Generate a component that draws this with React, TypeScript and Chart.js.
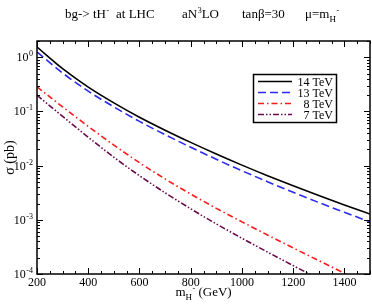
import React, { useEffect, useRef } from "react";
import { Chart, registerables } from "chart.js";

Chart.register(...registerables);

const masses = [200, 300, 400, 500, 600, 700, 800, 900, 1000, 1100, 1200, 1300, 1400, 1500];
const sigma14 = [1.549, 0.617, 0.282, 0.1445, 0.0785, 0.0452, 0.0269, 0.0164, 0.01023, 0.00653, 0.00425, 0.00281, 0.00188, 0.00128];
const sigma13 = [1.259, 0.513, 0.237, 0.1216, 0.0656, 0.0373, 0.0219, 0.01312, 0.00805, 0.00505, 0.00322, 0.00209, 0.001377, 0.000918];
const sigma8 = [0.285, 0.1216, 0.0531, 0.024, 0.01135, 0.00569, 0.00299, 0.00163, 0.000918, 0.000525, 0.000303, 0.0001766, 0.0001035, 0.000061];
const sigma7 = [0.1995, 0.0813, 0.0335, 0.0143, 0.00653, 0.00316, 0.0016, 0.000841, 0.000457, 0.000254, 0.000143, 0.0000813];
const seriesLabels = ["14 TeV", "13 TeV", "8 TeV", "7 TeV"];
const seriesColors = ["#000000", "#2a2af0", "#ff1a1a", "#6a0a4c"];
const seriesDashes: number[][] = [[], [8, 4], [6, 3, 1.5, 3], [6, 2, 1.5, 2, 1.5, 2]];
const xTickLabels = [200, 400, 600, 800, 1000, 1200, 1400];
const yDecades = [0, -1, -2, -3, -4];

const SERIF = '"Liberation Serif", "DejaVu Serif", serif';

type Seg = { t: string; k: "n" | "sup" | "sub" };

function drawRuns(ctx: CanvasRenderingContext2D, segs: Seg[], x: number, y: number, size: number) {
  let cx = x;
  for (const s of segs) {
    if (s.k === "n") {
      ctx.font = `${size}px ${SERIF}`;
      ctx.fillText(s.t, cx, y);
      cx += ctx.measureText(s.t).width;
    } else if (s.k === "sup") {
      ctx.font = `${Math.round(size * 0.65)}px ${SERIF}`;
      ctx.fillText(s.t, cx + 0.5, y - size * 0.42);
      cx += ctx.measureText(s.t).width + 0.5;
    } else {
      ctx.font = `${Math.round(size * 0.7)}px ${SERIF}`;
      ctx.fillText(s.t, cx, y + size * 0.3);
      cx += ctx.measureText(s.t).width;
    }
  }
  return cx;
}

function runsWidth(ctx: CanvasRenderingContext2D, segs: Seg[], size: number) {
  let w = 0;
  for (const s of segs) {
    const fs = s.k === "n" ? size : s.k === "sup" ? Math.round(size * 0.65) : Math.round(size * 0.7);
    ctx.font = `${fs}px ${SERIF}`;
    w += ctx.measureText(s.t).width + (s.k === "sup" ? 0.5 : 0);
  }
  return w;
}

const decorPlugin = {
  id: "decor",
  afterDraw(chart: any) {
    const ctx: CanvasRenderingContext2D = chart.ctx;
    const { left, right, top, bottom } = chart.chartArea;
    const xs = chart.scales.x;
    const ys = chart.scales.y;
    ctx.save();
    ctx.fillStyle = "#000";
    ctx.strokeStyle = "#000";
    // frame
    ctx.lineWidth = 1.5;
    ctx.strokeRect(left, top, right - left, bottom - top);
    ctx.lineWidth = 1;
    // x ticks
    for (let v = 200; v <= 1500; v += 50) {
      const px = Math.round(xs.getPixelForValue(v)) + 0.5;
      const major = v % 200 === 0;
      const len = major ? 6 : 3;
      ctx.beginPath();
      ctx.moveTo(px, bottom);
      ctx.lineTo(px, bottom - len);
      ctx.moveTo(px, top);
      ctx.lineTo(px, top + len);
      ctx.stroke();
    }
    // y ticks
    for (let d = -4; d <= 0; d++) {
      for (let m = 1; m <= 9; m++) {
        const v = m * Math.pow(10, d);
        if (v > ys.max) continue;
        const py = Math.round(ys.getPixelForValue(v)) + 0.5;
        const len = m === 1 ? 6 : 3;
        ctx.beginPath();
        ctx.moveTo(left, py);
        ctx.lineTo(left + len, py);
        ctx.moveTo(right, py);
        ctx.lineTo(right - len, py);
        ctx.stroke();
      }
    }
    // x tick labels
    ctx.textBaseline = "alphabetic";
    ctx.font = `12px ${SERIF}`;
    ctx.textAlign = "center";
    for (const v of xTickLabels) {
      ctx.fillText(String(v), xs.getPixelForValue(v), bottom + 12);
    }
    ctx.textAlign = "left";
    // y tick labels
    for (const d of yDecades) {
      const segs: Seg[] = [{ t: "10", k: "n" }, { t: String(d), k: "sup" }];
      const w = runsWidth(ctx, segs, 12);
      const py = ys.getPixelForValue(Math.pow(10, d));
      drawRuns(ctx, segs, left - 4 - w, py + 4, 12);
    }
    // x title
    const xt: Seg[] = [{ t: "m", k: "n" }, { t: "H", k: "sub" }, { t: "-", k: "sup" }, { t: " (GeV)", k: "n" }];
    const xtw = runsWidth(ctx, xt, 13);
    drawRuns(ctx, xt, (left + right) / 2 - xtw / 2, 296, 13);
    // y title
    ctx.save();
    ctx.translate(14, (top + bottom) / 2);
    ctx.rotate(-Math.PI / 2);
    ctx.font = `14px ${SERIF}`;
    ctx.textAlign = "center";
    ctx.fillText("σ (pb)", 0, 0);
    ctx.restore();
    // title
    const ty = 18;
    const ts = 13;
    drawRuns(ctx, [{ t: "bg-> tH", k: "n" }, { t: "-", k: "sup" }], 65, ty, ts);
    drawRuns(ctx, [{ t: "at LHC", k: "n" }], 116, ty, ts);
    drawRuns(ctx, [{ t: "aN", k: "n" }, { t: "3", k: "sup" }, { t: "LO", k: "n" }], 182, ty, ts);
    drawRuns(ctx, [{ t: "tanβ=30", k: "n" }], 242, ty, ts);
    drawRuns(ctx, [{ t: "μ=m", k: "n" }, { t: "H", k: "sub" }, { t: "-", k: "sup" }], 305, ty, ts);
    // legend
    ctx.lineWidth = 1.5;
    ctx.strokeRect(253.5, 74.5, 83, 48);
    const rowY = [81.5, 92.5, 103.5, 114.5];
    for (let i = 0; i < 4; i++) {
      ctx.beginPath();
      ctx.setLineDash(seriesDashes[i]);
      ctx.strokeStyle = seriesColors[i];
      ctx.lineWidth = 1.6;
      ctx.moveTo(258, rowY[i]);
      ctx.lineTo(292, rowY[i]);
      ctx.stroke();
      ctx.setLineDash([]);
      ctx.font = `12px ${SERIF}`;
      ctx.textAlign = "right";
      ctx.fillStyle = "#000";
      ctx.fillText(seriesLabels[i], 333, rowY[i] + 4);
    }
    ctx.restore();
  },
};

export default function App() {
  const ref = useRef<HTMLCanvasElement | null>(null);
  useEffect(() => {
    if (!ref.current) return;
    const allSeries = [sigma14, sigma13, sigma8, sigma7];
    const chart = new Chart(ref.current, {
      type: "line",
      data: {
        datasets: allSeries.map((s, i) => ({
          label: seriesLabels[i],
          data: s.map((y, j) => ({ x: masses[j], y })),
          borderColor: seriesColors[i],
          borderWidth: 1.6,
          borderDash: seriesDashes[i],
          pointRadius: 0,
          fill: false,
          cubicInterpolationMode: "monotone" as const,
        })),
      },
      options: {
        responsive: false,
        animation: false,
        layout: { padding: { left: 37, top: 41, right: 2, bottom: 31 } },
        plugins: { legend: { display: false }, tooltip: { enabled: false }, title: { display: false } },
        scales: {
          x: { type: "linear", min: 200, max: 1500, display: false },
          y: { type: "logarithmic", min: 1e-4, max: 2, display: false },
        },
      },
      plugins: [decorPlugin],
    });
    return () => chart.destroy();
  }, []);
  return (
    <div style={{ position: "absolute", left: 0, top: 0, width: 372, height: 305, background: "#fff" }}>
      <canvas ref={ref} width={372} height={305} style={{ width: 372, height: 305 }} />
    </div>
  );
}
